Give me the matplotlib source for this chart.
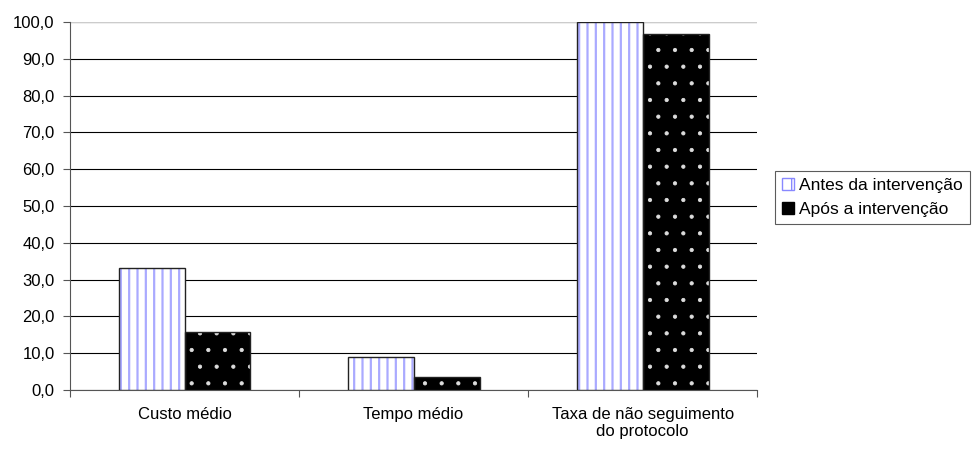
import numpy as np
import matplotlib.pyplot as plt
from matplotlib.patches import Patch

plt.rcParams['font.family'] = ['Liberation Sans', 'DejaVu Sans']
plt.rcParams['font.size'] = 12

categorias = ['Custo médio', 'Tempo médio', 'Taxa de não seguimento\ndo protocolo']
antes = [33.1, 8.9, 100.0]
apos = [15.8, 3.4, 96.7]
series = ['Antes da intervenção', 'Após a intervenção']

fig = plt.figure(figsize=(9.72, 4.49), dpi=100)
ax = fig.add_axes([0.072, 0.1314, 0.707, 0.8196])

x = np.arange(len(categorias))
w = 0.288

# antes: branco com riscas azuis
with plt.rc_context({'hatch.linewidth': 1.6}):
    ax.bar(x - w / 2, antes, w, color='white', edgecolor='#aaaaff', hatch='||', linewidth=0, zorder=3)
ax.bar(x - w / 2, antes, w, fill=False, edgecolor='#222222', linewidth=1, zorder=4)
# apos: preto com pontos brancos
with plt.rc_context({'hatch.linewidth': 0.6}):
    ax.bar(x + w / 2, apos, w, color='black', edgecolor='#dddddd', hatch='.', linewidth=0, zorder=3)
ax.bar(x + w / 2, apos, w, fill=False, edgecolor='#222222', linewidth=1, zorder=4)

ax.set_ylim(0, 100)
ax.set_xlim(-0.5, len(categorias) - 0.5)
ax.set_yticks(np.arange(0, 101, 10))
ax.set_yticklabels([f'{v:.1f}'.replace('.', ',') for v in np.arange(0, 101, 10)])
ax.yaxis.grid(True, color='black', linewidth=0.8, zorder=0)
ax.set_axisbelow(True)

ax.set_xticks(np.arange(len(categorias) + 1) - 0.5)
ax.set_xticklabels([])
ax.set_xticks(x, minor=True)
ax.set_xticklabels(categorias, minor=True)
ax.tick_params(axis='x', which='minor', length=0, pad=12)
ax.tick_params(axis='x', which='major', length=5, color='#555555')
ax.tick_params(axis='y', length=5, color='#555555', pad=6)

for s in ['top', 'right']:
    ax.spines[s].set_visible(False)
ax.spines['left'].set_color('#555555')
ax.spines['bottom'].set_color('#555555')
ax.axhline(100, color='#cccccc', linewidth=0.8, zorder=1)

handles = [Patch(facecolor='white', edgecolor='#8888ff', hatch='|', label=series[0]),
           Patch(facecolor='black', edgecolor='black', label=series[1])]
leg = fig.legend(handles=handles, loc='upper left', bbox_to_anchor=(0.797, 0.62),
                 frameon=True, fancybox=False, edgecolor='#333333', handlelength=0.7,
                 handleheight=0.7, handletextpad=0.3, borderpad=0.4, labelspacing=0.55,
                 borderaxespad=0, fontsize=12.5)
leg.get_frame().set_linewidth(0.8)

fig.savefig('out.png', dpi=100)
